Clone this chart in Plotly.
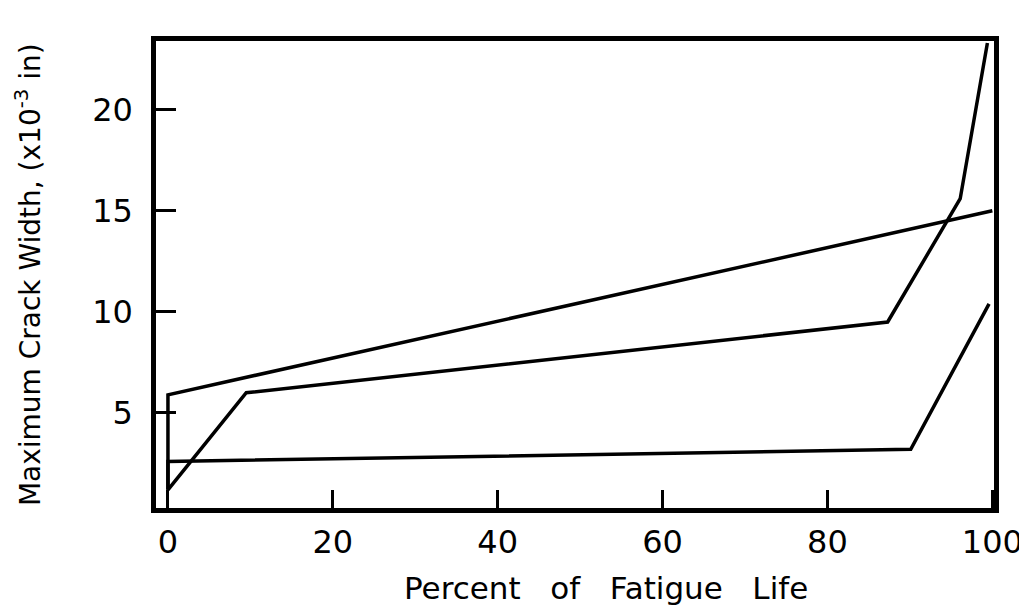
import plotly.graph_objects as go

# Series (percent of fatigue life, crack width x10^-3 in)
a_x = [0, 0, 100]
a_y = [1.2, 5.9, 15.0]

b_x = [0, 9.5, 87.3, 96.1, 99.4]
b_y = [1.2, 6.0, 9.5, 15.6, 23.3]

c_x = [0, 0, 90.1, 99.6]
c_y = [1.2, 2.6, 3.2, 10.4]

x_ticks = [0, 20, 40, 60, 80, 100]
y_ticks = [5, 10, 15, 20]

FONT = "DejaVu Sans"
GAP = "\u00a0" * 3

fig = go.Figure()
for xs, ys in [(a_x, a_y), (b_x, b_y), (c_x, c_y)]:
    fig.add_trace(go.Scatter(x=xs, y=ys, mode="lines",
                             line=dict(color="black", width=3.5),
                             showlegend=False, hoverinfo="skip"))

fig.update_layout(
    width=1027, height=611,
    margin=dict(l=148, r=41, t=33, b=111),
    paper_bgcolor="white", plot_bgcolor="white",
    font=dict(family=FONT, color="black"),
)
fig.update_xaxes(
    range=[-1.45, 100.2], tickvals=x_ticks, ticktext=[str(v) for v in x_ticks],
    ticks="inside", ticklen=18, tickwidth=2.5, tickcolor="black",
    showline=True, linecolor="black", linewidth=4.5, mirror=True,
    showgrid=False, zeroline=False,
    tickfont=dict(size=32, family=FONT), ticklabelstandoff=2,
)
fig.update_yaxes(
    range=[0.3, 23.4], tickvals=y_ticks, ticktext=[str(v) for v in y_ticks],
    ticks="inside", ticklen=20, tickwidth=2.5, tickcolor="black",
    showline=True, linecolor="black", linewidth=4.5, mirror=True,
    showgrid=False, zeroline=False,
    tickfont=dict(size=32, family=FONT), ticklabelstandoff=12,
)

fig.add_annotation(
    text="Percent" + GAP + "of" + GAP + "Fatigue" + GAP + "Life",
    xref="paper", yref="paper", x=0.537, y=-0.172, xanchor="center", yanchor="middle",
    showarrow=False, font=dict(size=31, family=FONT, color="black"),
)
fig.add_annotation(
    text="Maximum Crack Width, (x10<sup>-3</sup> in)",
    xref="paper", yref="paper", x=-0.152, y=0.5, xanchor="center", yanchor="middle",
    textangle=-90, showarrow=False, font=dict(size=28, family=FONT, color="black"),
)

fig.write_html("out.html")
